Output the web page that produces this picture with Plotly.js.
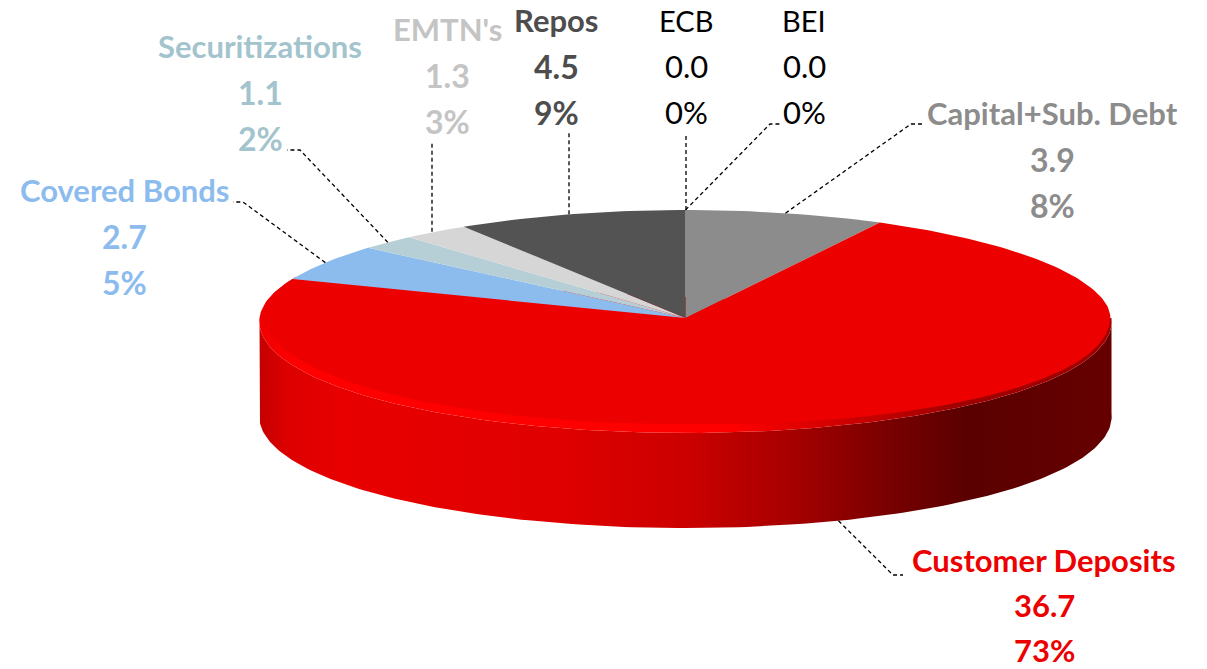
<!DOCTYPE html>
<html>
<head>
<meta charset="utf-8">
<script src="https://cdn.plot.ly/plotly-3.0.1.min.js"></script>
<style>html,body{margin:0;padding:0;background:#fff;overflow:hidden}#chart{width:1207px;height:669px}</style>
</head>
<body>
<div id="chart"></div>
<script>
// Data, clockwise from 12 o'clock
const categories = ["BEI", "Capital+Sub. Debt", "Customer Deposits", "Covered Bonds", "Securitizations", "EMTN's", "Repos", "ECB"];
const amounts = [0.0, 3.9, 36.7, 2.7, 1.1, 1.3, 4.5, 0.0];

// Styles
const sliceColors = ["#000000", "#8C8C8C", "#EC0000", "#8CBCEE", "#B6CFD7", "#D6D6D6", "#535353", "#000000"];
const labelColors = ["#000000", "#8C8C8C", "#EC0000", "#8CBCEE", "#A3C3CD", "#C4C4C4", "#4D4D4D", "#000000"];
const labelWeights = [400, 700, 700, 700, 700, 700, 700, 400];
const nameSizes = [29, 31, 31, 31, 31, 31, 31, 29];
const valueSizes = [31, 32, 31, 32, 32, 32, 32, 31];
// Label anchor (first line centre) and leader knee points, in page pixels
const labelX = [804, 1052, 1044, 124, 260, 447, 556, 686];
const labelY = [20, 113, 560, 190, 46, 29, 20, 20];
const lineGap = [46, 46, 45, 46, 46, 46, 46, 46];
const leaderPath = [
  [[770,124],[780,124]],
  [[911,124],[923,124]],
  [[893,575],[903,575]],
  [[243,202],[233,202]],
  [[300,150],[287,150]],
  [[432,143]],
  [[569,133]],
  [[686,133]]
];

const W = 1207, H = 669, FONT = "Lato, sans-serif";
const cx = 685.5, cy = 318, rx = 426, ryBack = 108, ryFront = 115, depth = 95, persp = 0.03;

const total = amounts.reduce((a, b) => a + b, 0);
const rad = d => d * Math.PI / 180;
function rim(t) {
  const c = Math.cos(rad(t));
  return [cx + rx * Math.sin(rad(t)) * (1 - persp * c), cy - (c > 0 ? ryBack : ryFront) * c];
}
// Top face boundary, pulled in along the front to leave the bevel visible
function face(t) {
  const p = rim(t), c = Math.cos(rad(t)), s = Math.sin(rad(t));
  let w = (0.25 - c) / 0.45; w = Math.max(0, Math.min(1, w)); w = w * w * (3 - 2 * w);
  const thick = s > 0 ? 9 - 6.5 * s : 9 - 2 * Math.abs(s);
  const inset = s > 0 ? 2 : 5;
  return [cx + (rx - inset * w) * s * (1 - persp * c), p[1] - thick * w];
}
function arc(a, b, fn) {
  const pts = [], n = Math.max(2, Math.ceil(Math.abs(b - a)));
  for (let i = 0; i <= n; i++) pts.push(fn(a + (b - a) * i / n));
  return pts;
}
function polyTrace(pts, extra) {
  return Object.assign({
    type: "scatter", mode: "lines", x: pts.map(p => p[0]), y: pts.map(p => p[1]),
    fill: "toself", line: {width: 0}, hoverinfo: "skip", showlegend: false
  }, extra);
}

const traces = [];
// Outer wall
const wallTop = arc(90, 270, rim);
const wallBottom = wallTop.slice().reverse().map(p => [p[0], p[1] + depth]);
traces.push(polyTrace(wallTop.concat(wallBottom), {
  fillcolor: "#EC0000",
  fillgradient: {type: "horizontal", colorscale: [
    [0, "#C40000"], [0.03, "#DC0000"], [0.1, "#E80000"], [0.35, "#E00000"], [0.5, "#CC0000"],
    [0.62, "#A80000"], [0.74, "#780000"], [0.83, "#5A0000"], [1, "#660000"]
  ]}
}));
// Bevel below the top face
traces.push(polyTrace(arc(90, 292, rim), {
  fillcolor: "#FF0000",
  fillgradient: {type: "horizontal", colorscale: [
    [0, "#F00000"], [0.05, "#FF0000"], [0.55, "#FF0000"], [0.66, "#D80000"], [0.82, "#A00000"], [1, "#A00000"]
  ]}
}));
// Slices
let start = 0;
const mids = [];
amounts.forEach((v, i) => {
  const span = v / total * 360;
  mids.push(start + span / 2);
  if (v > 0) {
    const pts = [[cx, cy]].concat(arc(start, start + span, face));
    traces.push(polyTrace(pts, {fillcolor: sliceColors[i], name: categories[i]}));
  }
  start += span;
});
// Leader lines
mids.forEach((m, i) => {
  let p = rim(m);
  if (Math.cos(rad(m)) < 0) p = [p[0], p[1] + depth];
  if (leaderPath[i].length === 1) p = [leaderPath[i][0][0], p[1]];
  const pts = [p].concat(leaderPath[i]);
  traces.push({
    type: "scatter", mode: "lines", x: pts.map(q => q[0]), y: pts.map(q => q[1]),
    line: {color: "#000000", width: 1.3, dash: "4px,3px"}, hoverinfo: "skip", showlegend: false
  });
});

// Labels
const annotations = [];
categories.forEach((c, i) => {
  const lines = [c, amounts[i].toFixed(1), Math.round(amounts[i] / total * 100) + "%"];
  lines.forEach((t, k) => annotations.push({
    x: labelX[i], y: labelY[i] + k * lineGap[i], xref: "x", yref: "y", text: t, showarrow: false,
    xanchor: "center", yanchor: "middle",
    font: {family: FONT, size: k === 0 ? nameSizes[i] : valueSizes[i], color: labelColors[i], weight: labelWeights[i]}
  }));
});

Plotly.newPlot("chart", traces, {
  width: W, height: H, margin: {l: 0, r: 0, t: 0, b: 0},
  paper_bgcolor: "#FFFFFF", plot_bgcolor: "#FFFFFF", showlegend: false,
  xaxis: {range: [0, W], visible: false, fixedrange: true},
  yaxis: {range: [H, 0], visible: false, fixedrange: true},
  annotations: annotations
}, {displayModeBar: false, staticPlot: true});
</script>
</body>
</html>
